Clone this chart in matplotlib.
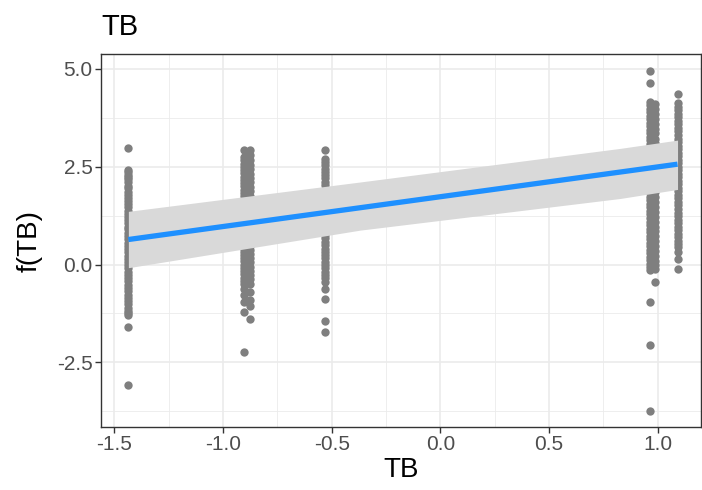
import matplotlib
matplotlib.use('Agg')
import matplotlib.pyplot as plt
from matplotlib.ticker import MultipleLocator

plt.rcParams['font.family'] = ['Liberation Sans', 'DejaVu Sans']

# partial effect points, one list per TB level
x_levels = [-1.436, -0.905, -0.876, -0.53, 0.965, 0.99, 1.092]
y_points = [
    # TB = -1.436
    [2.98, 2.41, 2.36, 2.30, 2.25, 2.18, 2.10, 2.02, 1.95, 1.86, 1.78, 1.70, 1.62, 1.55,
     1.46, 1.38, 1.30, 1.22, 1.14, 1.05, 0.97, 0.90, 0.81, 0.73, 0.65, 0.56, 0.48, 0.40,
     0.31, 0.23, 0.15, 0.06, -0.02, -0.10, -0.18, -0.27, -0.35, -0.43, -0.52, -0.60,
     -0.68, -0.77, -0.85, -0.93, -1.02, -1.10, -1.18, -1.25, -1.30, -1.60, -3.07],
    # TB = -0.905
    [2.92, 2.75, 2.66, 2.58, 2.50, 2.41, 2.33, 2.25, 2.16, 2.08, 2.00, 1.91, 1.83, 1.75,
     1.66, 1.58, 1.50, 1.41, 1.33, 1.25, 1.16, 1.08, 1.00, 0.91, 0.83, 0.75, 0.66, 0.58,
     0.50, 0.41, 0.33, 0.25, 0.16, 0.08, 0.00, -0.09, -0.17, -0.25, -0.34, -0.42, -0.50,
     -0.63, -0.78, -0.96, -1.22, -2.23],
    # TB = -0.876
    [2.94, 2.80, 2.66, 2.55, 2.44, 2.32, 2.20, 2.10, 1.98, 1.88, 1.76, 1.65, 1.55, 1.44,
     1.33, 1.22, 1.12, 1.01, 0.90, 0.80, 0.70, 0.59, 0.48, 0.38, 0.27, 0.16, 0.06, -0.05,
     -0.16, -0.27, -0.38, -0.49, -0.70, -0.90, -1.05, -1.39],
    # TB = -0.53
    [2.94, 2.71, 2.62, 2.54, 2.45, 2.37, 2.28, 2.20, 2.11, 2.03, 1.94, 1.86, 1.77, 1.69,
     1.60, 1.52, 1.43, 1.35, 1.26, 1.18, 1.09, 1.01, 0.92, 0.84, 0.75, 0.67, 0.58, 0.50,
     0.41, 0.33, 0.24, 0.16, 0.07, -0.01, -0.10, -0.18, -0.27, -0.35, -0.44, -0.63,
     -0.89, -1.43, -1.73],
    # TB = 0.965
    [4.95, 4.63, 4.16, 4.07, 3.98, 3.89, 3.80, 3.71, 3.62, 3.53, 3.44, 3.35, 3.26, 3.17,
     3.08, 2.99, 2.90, 2.81, 2.72, 2.63, 2.54, 2.45, 2.36, 2.27, 2.18, 2.09, 2.00, 1.91,
     1.82, 1.73, 1.64, 1.55, 1.46, 1.37, 1.28, 1.19, 1.10, 1.01, 0.92, 0.83, 0.74, 0.65,
     0.56, 0.47, 0.38, 0.29, 0.20, 0.11, 0.02, -0.07, -0.15, -0.96, -2.05, -3.74],
    # TB = 0.99
    [4.10, 3.98, 3.85, 3.72, 3.60, 3.47, 3.35, 3.22, 3.10, 2.97, 2.85, 2.72, 2.60, 2.47,
     2.35, 2.22, 2.10, 1.97, 1.85, 1.72, 1.60, 1.47, 1.35, 1.22, 1.10, 0.97, 0.85, 0.72,
     0.60, 0.47, 0.35, 0.22, 0.10, -0.02, -0.12, -0.44],
    # TB = 1.092
    [4.35, 4.12, 4.03, 3.94, 3.85, 3.76, 3.67, 3.58, 3.49, 3.40, 3.31, 3.22, 3.13, 3.04,
     2.95, 2.86, 2.77, 2.68, 2.59, 2.50, 2.41, 2.32, 2.23, 2.14, 2.05, 1.96, 1.87, 1.78,
     1.69, 1.60, 1.51, 1.42, 1.33, 1.24, 1.15, 1.06, 0.97, 0.88, 0.79, 0.70, 0.61, 0.52,
     0.45, 0.32, 0.15, -0.12],
]

# fitted line and its confidence band
fit_x = [-1.436, 1.092]
fit_y = [0.64, 2.565]
band_x = [-1.436, -0.369, 0.83, 1.092]
band_lo = [-0.08, 0.88, 1.69, 1.92]
band_hi = [1.36, 2.11, 2.97, 3.18]

fig = plt.figure(figsize=(7.02, 4.90), dpi=100)
ax = fig.add_axes([101 / 702, 1 - 427 / 490, 600 / 702, 373 / 490])

for xv, ys in zip(x_levels, y_points):
    ax.scatter([xv] * len(ys), ys, s=36, color='#7f7f7f', linewidths=0, zorder=2)

ax.fill_between(band_x, band_lo, band_hi, color='#d9d9d9', linewidth=0, zorder=3)
ax.plot(fit_x, fit_y, color='#1e90ff', linewidth=3.8, solid_capstyle='butt', zorder=4)

ax.set_xlim(-1.562, 1.2)
ax.set_ylim(-4.15, 5.38)
ax.xaxis.set_minor_locator(MultipleLocator(0.25))
ax.yaxis.set_minor_locator(MultipleLocator(1.25))
ax.set_xticks([-1.5, -1.0, -0.5, 0.0, 0.5, 1.0])
ax.set_xticklabels(['-1.5', '-1.0', '-0.5', '0.0', '0.5', '1.0'])
ax.set_yticks([-2.5, 0.0, 2.5, 5.0])
ax.set_yticklabels(['-2.5', '0.0', '2.5', '5.0'])

ax.grid(which='major', color='#ebebeb', linewidth=1.2, zorder=0)
ax.grid(which='minor', color='#ebebeb', linewidth=0.6, zorder=0)
ax.set_axisbelow(True)
for sp in ax.spines.values():
    sp.set_color('#333333')
    sp.set_linewidth(1.0)
ax.tick_params(which='major', length=4, width=1, color='#333333',
               labelcolor='#4d4d4d', labelsize=15, pad=2)
ax.tick_params(which='minor', length=0)

ax.set_xlabel('TB', fontsize=20, color='black', labelpad=2)
ax.set_ylabel('f(TB)', fontsize=20, color='black', labelpad=10)
ax.set_title('TB', fontsize=21, loc='left', pad=14)

fig.savefig('out.png', dpi=100)
